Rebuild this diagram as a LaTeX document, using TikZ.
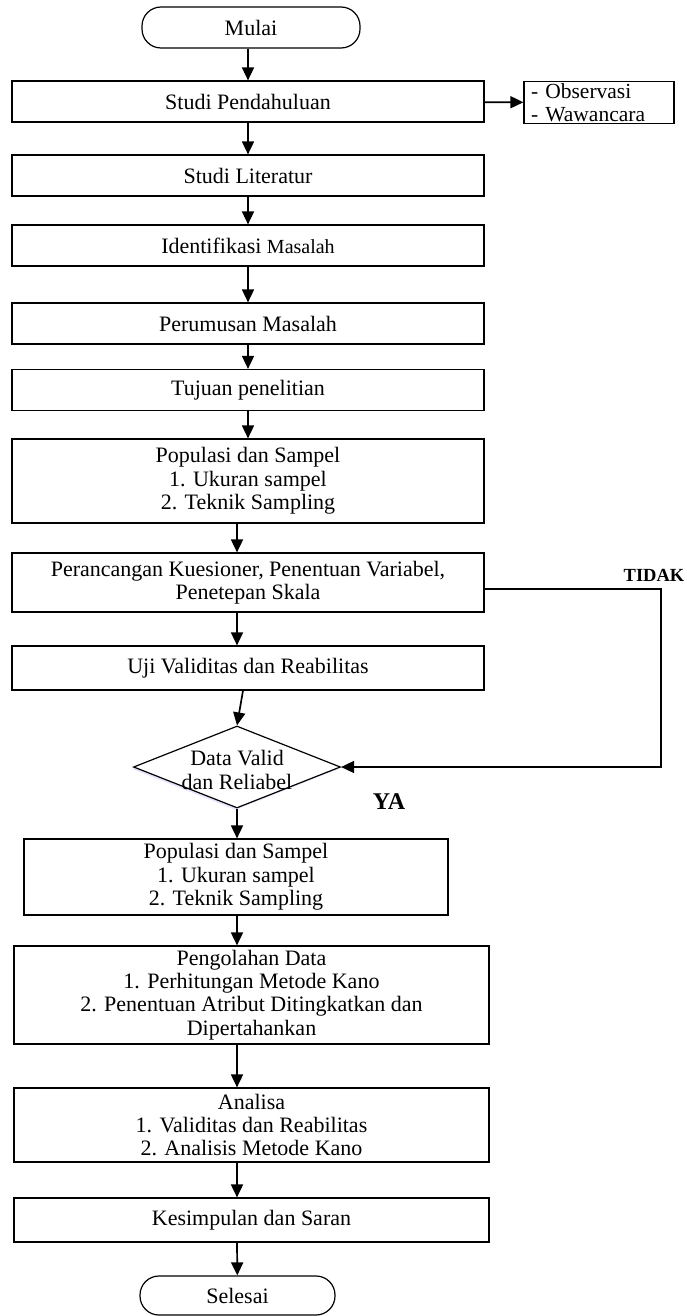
\documentclass[tikz,border=0pt]{standalone}
\usepackage{fontspec}
\setmainfont{Liberation Serif}
\usetikzlibrary{shapes.geometric,arrows.meta,shadows}

\tikzset{
  proses/.style={draw, line width=1.2pt, minimum width=472pt, minimum height=41pt,
    inner sep=2pt, align=center, font=\fontsize{22}{23.3}\selectfont},
  terminal/.style={proses, rounded corners=19pt, minimum width=218pt},
  keputusan/.style={diamond, draw, line width=1.2pt, inner sep=0pt,
    minimum width=207pt, minimum height=82pt, fill=white,
    general shadow={fill=blue!30, opacity=0.35, shadow xshift=-1.5pt, shadow yshift=-2pt}},
  catatan/.style={draw, line width=1.2pt, text width=136pt, minimum height=41pt,
    inner sep=7pt, align=left, font=\fontsize{21.5}{23}\selectfont},
  panah/.style={line width=1.7pt, -{Triangle[length=13pt,width=12pt]}},
  ket/.style={font=\bfseries\fontsize{18.5}{20}\selectfont}
}

\begin{document}
\begin{tikzpicture}[x=1pt,y=-1pt]
\useasboundingbox (0,0) rectangle (687,1316);

\node[terminal] (mulai) at (251,27.5) {Mulai};
\node[proses] (sp) at (248,101.5) {Studi Pendahuluan};
\node[catatan, inner ysep=2pt] (obs) at (599,102.5) {- Observasi\\- Wawancara};
\node[proses] (sl) at (248,175.5) {Studi Literatur};
\node[proses] (im) at (248,245.5) {Identifikasi {\fontsize{20}{21}\selectfont Masalah}};
\node[proses] (pm) at (248,323.5) {Perumusan Masalah};
\node[proses] (tp) at (248,390) {Tujuan penelitian};
\node[proses, minimum height=84pt] (pop1) at (248,481)
  {Populasi dan Sampel\\1. Ukuran sampel\\2. Teknik Sampling};
\node[proses, minimum height=59pt] (pk) at (248,582.5)
  {Perancangan Kuesioner, Penentuan Variabel,\\Penetepan Skala};
\node[proses, minimum height=44pt] (uji) at (248,668) {Uji Validitas dan Reabilitas};
\node[keputusan, label={[align=center, font=\fontsize{22}{23.3}\selectfont, yshift=-3pt]center:Data Valid\\dan Reliabel}] (dv) at (237,767) {};
\node[proses, minimum width=424pt, minimum height=76pt] (pop2) at (236,877)
  {Populasi dan Sampel\\1. Ukuran sampel\\2. Teknik Sampling};
\node[proses, minimum width=475pt, minimum height=98pt] (po) at (251.5,995)
  {Pengolahan Data\\1. Perhitungan Metode Kano\\2. Penentuan Atribut Ditingkatkan dan\\Dipertahankan};
\node[proses, minimum width=475pt, minimum height=74pt] (an) at (251.5,1125)
  {Analisa\\1. Validitas dan Reabilitas\\2. Analisis Metode Kano};
\node[proses, minimum width=475pt, minimum height=44pt] (ks) at (251.5,1220) {Kesimpulan dan Saran};
\node[terminal, minimum width=195pt, minimum height=39pt] (selesai) at (237.5,1295.5) {Selesai};

\node[ket] (tidak) at (654,575) {TIDAK};
\node[ket, font=\bfseries\fontsize{24}{26}\selectfont] (ya) at (389,802) {YA};
\coordinate (sudut) at (661,767);

\draw[panah] (mulai.south -| sp.south) -- (sp);
\draw[panah] (sp) -- (obs);
\draw[panah] (sp) -- (sl);
\draw[panah] (sl) -- (im);
\draw[panah] (im) -- (pm);
\draw[panah] (pm) -- (tp);
\draw[panah] (tp) -- (pop1);
\draw[panah] (pop1.south -| dv.center) -- (pk.north -| dv.center);
\draw[panah] (pk.south -| dv.center) -- (uji.north -| dv.center);
\draw[panah] ([xshift=-5pt]uji.south) -- (dv.north);
\draw[panah] (dv.south) -- (pop2.north -| dv.center);
\draw[panah] (pop2.south -| dv.center) -- (po.north -| dv.center);
\draw[panah] (po.south -| dv.center) -- (an.north -| dv.center);
\draw[panah] (an.south -| dv.center) -- (ks.north -| dv.center);
\draw[panah] (ks.south -| dv.center) -- (selesai);
\draw[panah, {Triangle[length=13pt,width=12pt]}-] (dv.east) -- (sudut) |- ([yshift=-6.5pt]pk.east);
\end{tikzpicture}
\end{document}
